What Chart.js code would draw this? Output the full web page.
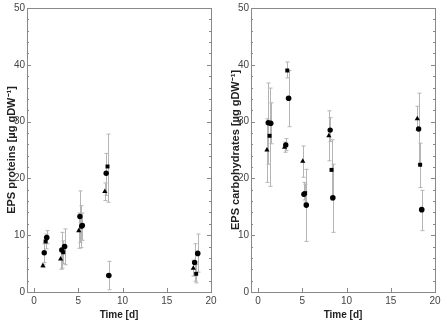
<!DOCTYPE html>
<html>
<head>
<meta charset="utf-8">
<script src="https://cdn.jsdelivr.net/npm/chart.js@4/dist/chart.umd.min.js"></script>
<style>
  body { margin: 0; background: #fff; }
  #wrap { position: relative; width: 447px; height: 321px; }
  canvas { position: absolute; top: 0; }
</style>
</head>
<body>
<div id="wrap">
  <canvas id="left" width="224" height="321" style="left:0"></canvas>
  <canvas id="right" width="223" height="321" style="left:224px"></canvas>
</div>
<script>
// sampling times of the four series (slightly shifted in the figure)
var timeA = [1.0, 3.0, 5.05, 8.0, 18.0];
var timeB = [1.15, 3.13, 5.18, 8.15, 18.15];
var timeC = [1.3, 3.3, 5.32, 8.3, 18.32];
var timeD = [1.43, 3.45, 5.45, 8.45, 18.5];

// EPS proteins
var protA = [4.6, 5.8, 10.8, 17.7, 4.2];
var protALow = [4.3, 4.0, 7.7, 16.1, 2.8];
var protAHigh = [4.9, 7.6, 13.9, 19.2, 5.6];
var protB = [6.9, 7.4, 13.3, 20.9, 5.2];
var protBLow = [5.2, 4.2, 8.7, 17.0, 1.9];
var protBHigh = [8.5, 10.5, 17.8, 24.4, 8.5];
var protC = [8.9, 7.0, 11.5, 22.1, 3.2];
var protCLow = [7.6, 5.0, 7.8, 15.8, 1.6];
var protCHigh = [10.2, 9.0, 15.2, 27.8, 4.8];
var protD = [9.6, 8.0, 11.7, 2.9, 6.8];
var protDLow = [8.5, 4.8, 9.1, 0.4, 3.5];
var protDHigh = [10.8, 11.1, 13.9, 5.4, 10.2];

// EPS carbohydrates
var carbA = [25.0, 25.5, 23.0, 27.5, 30.5];
var carbALow = [19.3, 24.6, 20.2, 23.1, 28.5];
var carbAHigh = [30.5, 26.4, 25.7, 31.9, 32.7];
var carbB = [29.8, 25.9, 17.2, 28.5, 28.7];
var carbBLow = [22.5, 24.9, 16.2, 26.5, 22.5];
var carbBHigh = [36.8, 27.0, 19.3, 30.7, 35.0];
var carbC = [27.5, 39.0, 17.4, 21.5, 22.4];
var carbCLow = [18.6, 37.7, 15.8, 16.2, 18.4];
var carbCHigh = [35.9, 40.5, 19.0, 26.8, 26.2];
var carbD = [29.7, 34.1, 15.3, 16.6, 14.5];
var carbDLow = [26.1, 29.1, 8.9, 10.5, 10.8];
var carbDHigh = [33.3, 39.0, 21.6, 22.5, 17.9];

var xTicks = [0, 5, 10, 15, 20];
var yTicks = [0, 10, 20, 30, 40, 50];

var narrow = "'Liberation Sans Narrow', 'Arial Narrow', 'Liberation Sans', sans-serif";

function points(xs, ys, lo, hi) {
  return xs.map(function(x, i) {
    return { x: x, y: ys[i], lo: lo[i], hi: hi[i] };
  });
}

// error bars + box frame with inward ticks
var framePlugin = {
  id: "frame",
  beforeDatasetsDraw: function(chart) {
    var ctx = chart.ctx;
    var xs = chart.scales.x, ys = chart.scales.y;
    ctx.save();
    ctx.strokeStyle = "#b5b5b5";
    ctx.lineWidth = 1;
    chart.data.datasets.forEach(function(ds) {
      ds.data.forEach(function(p) {
        var px = Math.round(xs.getPixelForValue(p.x)) + 0.5;
        var top = ys.getPixelForValue(p.hi);
        var bot = ys.getPixelForValue(p.lo);
        ctx.beginPath();
        ctx.moveTo(px, top); ctx.lineTo(px, bot);
        ctx.moveTo(px - 2, top); ctx.lineTo(px + 2, top);
        ctx.moveTo(px - 2, bot); ctx.lineTo(px + 2, bot);
        ctx.stroke();
      });
    });
    ctx.restore();
  },
  afterDraw: function(chart) {
    var ctx = chart.ctx, a = chart.chartArea;
    var xs = chart.scales.x, ys = chart.scales.y;
    ctx.save();
    ctx.strokeStyle = "#888";
    ctx.lineWidth = 1;
    ctx.strokeRect(Math.round(a.left) + 0.5, Math.round(a.top) + 0.5,
      Math.round(a.right - a.left), Math.round(a.bottom - a.top));
    ctx.beginPath();
    xTicks.forEach(function(v) {
      var px = Math.round(xs.getPixelForValue(v)) + 0.5;
      ctx.moveTo(px, a.bottom); ctx.lineTo(px, a.bottom - 4);
    });
    for (var v = 0; v <= 50; v += 2) {
      var py = Math.round(ys.getPixelForValue(v)) + 0.5;
      var len = v % 10 === 0 ? 4 : 2;
      ctx.moveTo(a.left, py); ctx.lineTo(a.left + len, py);
      ctx.moveTo(a.right, py); ctx.lineTo(a.right - len, py);
    }
    ctx.stroke();
    ctx.restore();
  }
};

function makeChart(id, yTitle, padRight, series) {
  var styles = ["triangle", "circle", "rect", "circle"];
  var sizes = [3.0, 2.7, 2.8, 2.8];
  return new Chart(document.getElementById(id), {
    type: "scatter",
    data: {
      datasets: series.map(function(d, i) {
        return {
          data: d,
          pointStyle: styles[i],
          pointRadius: sizes[i],
          backgroundColor: "#000",
          borderColor: "#000",
          borderWidth: 0
        };
      })
    },
    options: {
      responsive: false,
      animation: false,
      layout: { padding: { left: 0, right: padRight, top: 8, bottom: 0 } },
      plugins: { legend: { display: false }, tooltip: { enabled: false } },
      scales: {
        x: {
          type: "linear", min: -0.8, max: 20,
          afterBuildTicks: function(s) { s.ticks = xTicks.map(function(v) { return { value: v }; }); },
          afterFit: function(s) { s.height = 29; },
          grid: { display: false, drawTicks: false },
          border: { display: false },
          ticks: { color: "#444", padding: 3, font: { family: narrow, size: 10 } },
          title: { display: true, text: "Time [d]", color: "#222", padding: { top: 1, bottom: 0 },
                   font: { family: narrow, size: 10, weight: "bold" } }
        },
        y: {
          type: "linear", min: 0, max: 50,
          afterBuildTicks: function(s) { s.ticks = yTicks.map(function(v) { return { value: v }; }); },
          afterFit: function(s) { s.width = 27; },
          grid: { display: false, drawTicks: false },
          border: { display: false },
          ticks: { color: "#444", padding: 2, font: { family: narrow, size: 10 } },
          title: { display: true, text: yTitle, color: "#222", padding: { top: 5, bottom: 0 },
                   font: { family: "'Liberation Sans', Arial, sans-serif", size: 11, weight: "bold" } }
        }
      }
    },
    plugins: [framePlugin]
  });
}

makeChart("left", "EPS proteins [µg gDW⁻¹]", 13, [
  points(timeA, protA, protALow, protAHigh),
  points(timeB, protB, protBLow, protBHigh),
  points(timeC, protC, protCLow, protCHigh),
  points(timeD, protD, protDLow, protDHigh)
]);

makeChart("right", "EPS carbohydrates [µg gDW⁻¹]", 12, [
  points(timeA, carbA, carbALow, carbAHigh),
  points(timeB, carbB, carbBLow, carbBHigh),
  points(timeC, carbC, carbCLow, carbCHigh),
  points(timeD, carbD, carbDLow, carbDHigh)
]);
</script>
</body>
</html>
